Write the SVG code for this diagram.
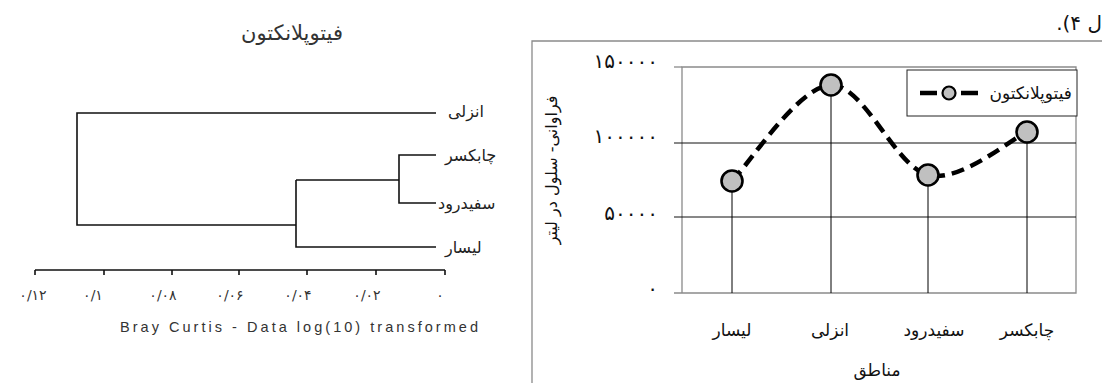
<svg xmlns="http://www.w3.org/2000/svg" width="1102" height="383" viewBox="0 0 1102 383">
<style>
.fa{font-family:"DejaVu Sans","Noto Sans",sans-serif;}
.dl{stroke:#111;stroke-width:1.6;fill:none;}
.dt{font-size:16px;fill:#222;}
.tk{font-size:14px;fill:#333;font-family:"DejaVu Sans",sans-serif;}
.yl{font-size:20px;fill:#111;letter-spacing:6px;}
.cat{font-size:17px;fill:#111;}
.grid{stroke:#111;stroke-width:1;}
.frame{stroke:#8a8a8a;stroke-width:1.3;fill:none;}
.drop{stroke:#000;stroke-width:1;}
.mk{fill:#c0c0c0;stroke:#000;stroke-width:2.6;}
.curve{fill:none;stroke:#000;stroke-width:4.5;stroke-dasharray:13 7;}
</style>
<rect width="1102" height="383" fill="#fff"/>

<!-- Dendrogram -->
<g id="dendrogram">
<text class="fa" x="292" y="40" text-anchor="middle" font-size="21" fill="#333">فیتوپلانکتون</text>
<g id="dendro-connectors">
<path class="dl" d="M436,113 H77 V225 H296"/>
<path class="dl" d="M296,180 V247 H436"/>
<path class="dl" d="M296,180 H399"/>
<path class="dl" d="M436,155 H399 V203 H436"/>
<path class="dl" d="M35,270 H445 M35,270 v5 M104,270 v5 M172,270 v5 M239,270 v5 M307,270 v5 M376,270 v5 M445,270 v5"/>
</g>
<g id="leaf-anzali"><text class="fa dt" x="448" y="117">انزلی</text></g>
<g id="leaf-chabaksar"><text class="fa dt" x="445" y="161">چابکسر</text></g>
<g id="leaf-sefidrud"><text class="fa dt" x="438" y="209">سفیدرود</text></g>
<g id="leaf-lisar"><text class="fa dt" x="445" y="253">لیسار</text></g>
<g id="dendro-axis-labels">
<text class="tk" x="33" y="300" text-anchor="middle">۰/۱۲</text>
<text class="tk" x="93" y="300" text-anchor="middle">۰/۱</text>
<text class="tk" x="163" y="300" text-anchor="middle">۰/۰۸</text>
<text class="tk" x="230" y="300" text-anchor="middle">۰/۰۶</text>
<text class="tk" x="298" y="300" text-anchor="middle">۰/۰۴</text>
<text class="tk" x="367" y="300" text-anchor="middle">۰/۰۲</text>
<text class="tk" x="440" y="300" text-anchor="middle">۰</text>
<text x="120" y="332" font-family="Liberation Sans,Arial,sans-serif" font-size="14.5" fill="#333" textLength="358" lengthAdjust="spacing">Bray Curtis - Data log(10) transformed</text>
</g>
</g>

<!-- Page text fragment -->
<text class="fa" x="1102" y="30" text-anchor="start" font-size="20" fill="#111" direction="rtl" unicode-bidi="embed">ل ۴).</text>

<!-- Line chart -->
<g id="chart">
<path class="frame" d="M1102,41 H532 V383"/>
<g id="plot-area">
<path class="frame" d="M682,293 V67 H1076 V293 H674"/>
<line class="grid" x1="674" y1="143" x2="1076" y2="143"/>
<line class="grid" x1="674" y1="217" x2="1076" y2="217"/>
<line class="frame" x1="674" y1="67" x2="682" y2="67"/>
</g>
<g id="y-axis">
<text class="fa yl" x="658" y="68" text-anchor="end">۱۵۰۰۰۰</text>
<text class="fa yl" x="658" y="143" text-anchor="end">۱۰۰۰۰۰</text>
<text class="fa yl" x="658" y="220" text-anchor="end">۵۰۰۰۰</text>
<text class="fa yl" x="658" y="295" text-anchor="end">۰</text>
<text class="fa" transform="translate(557,170) rotate(-90)" text-anchor="middle" font-size="16" fill="#111">فراوانی- سلول در لیتر</text>
</g>
<g id="connectors">
<line class="drop" x1="732" y1="181" x2="732" y2="293"/>
<line class="drop" x1="831" y1="85" x2="831" y2="293"/>
<line class="drop" x1="928" y1="175" x2="928" y2="293"/>
<line class="drop" x1="1027" y1="132" x2="1027" y2="293"/>
<path class="curve" d="M732,181 C748.5,165 798.3,86 831,85 C863.7,84 895.3,167 928,175 C960.7,183 1010.5,139 1027,132"/>
</g>
<g id="point-lisar"><circle class="mk" cx="732" cy="181" r="10.5"/></g>
<g id="point-anzali"><circle class="mk" cx="831" cy="85" r="10.5"/></g>
<g id="point-sefidrud"><circle class="mk" cx="928" cy="175" r="10.5"/></g>
<g id="point-chabaksar"><circle class="mk" cx="1027" cy="132" r="10.5"/></g>
<g id="x-axis">
<text class="fa cat" x="732" y="336" text-anchor="middle">لیسار</text>
<text class="fa cat" x="830" y="336" text-anchor="middle">انزلی</text>
<text class="fa cat" x="934" y="336" text-anchor="middle">سفیدرود</text>
<text class="fa cat" x="1027" y="336" text-anchor="middle">چابکسر</text>
<text class="fa cat" x="877" y="376" text-anchor="middle">مناطق</text>
</g>
<g id="legend">
<rect x="907" y="70" width="170" height="46" fill="#fff" stroke="#222" stroke-width="1"/>
<line x1="920" y1="93" x2="937" y2="93" stroke="#000" stroke-width="4.5"/>
<line x1="961" y1="93" x2="978" y2="93" stroke="#000" stroke-width="4.5"/>
<circle cx="949" cy="93" r="6.5" fill="#c0c0c0" stroke="#000" stroke-width="2.2"/>
<text class="fa" x="1072" y="99" text-anchor="end" font-size="17" fill="#111">فیتوپلانکتون</text>
</g>
</g>
</svg>
